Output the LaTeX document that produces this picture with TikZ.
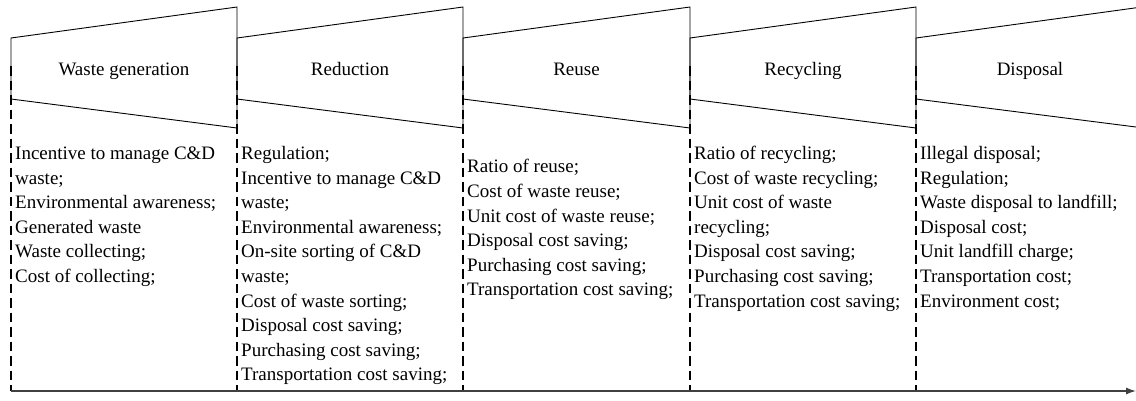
\documentclass[tikz,border=0pt]{standalone}
\usepackage{fontspec}
\setmainfont{Liberation Serif}
\usetikzlibrary{arrows.meta}
\begin{document}
\begin{tikzpicture}[x=1pt,y=-1pt,
  edge/.style={line width=0.9pt, line join=miter},
  sep/.style={line width=2.7pt, dash pattern=on 9.5pt off 5pt},
  title/.style={font=\fontsize{19}{24}\selectfont, anchor=base, inner sep=0pt},
  items/.style={font=\fontsize{19}{24.6}\selectfont, anchor=north west, align=left, inner sep=0pt},
  axisline/.style={line width=1.3pt, draw=black!75, -{Latex[length=10pt,width=7pt]}}]
\useasboundingbox (0,0) rectangle (1136,400);
% boundary coordinates
\foreach \n/\x in {0/11,1/237,2/463,3/690,4/916}{
  \coordinate (t\n) at (\x,38);
  \coordinate (T\n) at (\x,7);
  \coordinate (b\n) at (\x,99);
  \coordinate (B\n) at (\x,128);
  \coordinate (d\n) at (\x,66);
  \coordinate (e\n) at (\x,391);
}
\coordinate (T5) at (1136,7.8);
\coordinate (B5) at (1136,127);
% trapezoids
\draw[edge] (b0) -- (t0) -- (T1) -- (B1) -- cycle;
\draw[edge] (b1) -- (t1) -- (T2) -- (B2) -- cycle;
\draw[edge] (b2) -- (t2) -- (T3) -- (B3) -- cycle;
\draw[edge] (b3) -- (t3) -- (T4) -- (B4) -- cycle;
\draw[edge] (B5) -- (b4) -- (t4) -- (T5);
% dashed separators
\foreach \n in {0,...,4}{\draw[sep] (d\n) -- (e\n);}
% axis
\coordinate (axL) at (11,391);
\coordinate (axR) at (1136,391);
\draw[axisline] (axL) -- (axR);
% titles
\node[title] (h1) at (124,75) {Waste generation};
\node[title] (h2) at (350,75) {Reduction};
\node[title] (h3) at (576.5,75) {Reuse};
\node[title] (h4) at (803,75) {Recycling};
\node[title] (h5) at (1030,75) {Disposal};
% item lists
\node[items] (c1) at (15,142) {\strut Incentive to manage C\&D\\waste;\\Environmental awareness;\\Generated waste\\Waste collecting;\\Cost of collecting;};
\node[items] (c2) at (241,142) {\strut Regulation;\\Incentive to manage C\&D\\waste;\\Environmental awareness;\\On-site sorting of C\&D\\waste;\\Cost of waste sorting;\\Disposal cost saving;\\Purchasing cost saving;\\Transportation cost saving;};
\node[items] (c3) at (467,155.5) {\strut Ratio of reuse;\\Cost of waste reuse;\\Unit cost of waste reuse;\\Disposal cost saving;\\Purchasing cost saving;\\Transportation cost saving;};
\node[items] (c4) at (694,142) {\strut Ratio of recycling;\\Cost of waste recycling;\\Unit cost of waste\\recycling;\\Disposal cost saving;\\Purchasing cost saving;\\Transportation cost saving;};
\node[items] (c5) at (920,142) {\strut Illegal disposal;\\Regulation;\\Waste disposal to landfill;\\Disposal cost;\\Unit landfill charge;\\Transportation cost;\\Environment cost;};
\end{tikzpicture}
\end{document}
